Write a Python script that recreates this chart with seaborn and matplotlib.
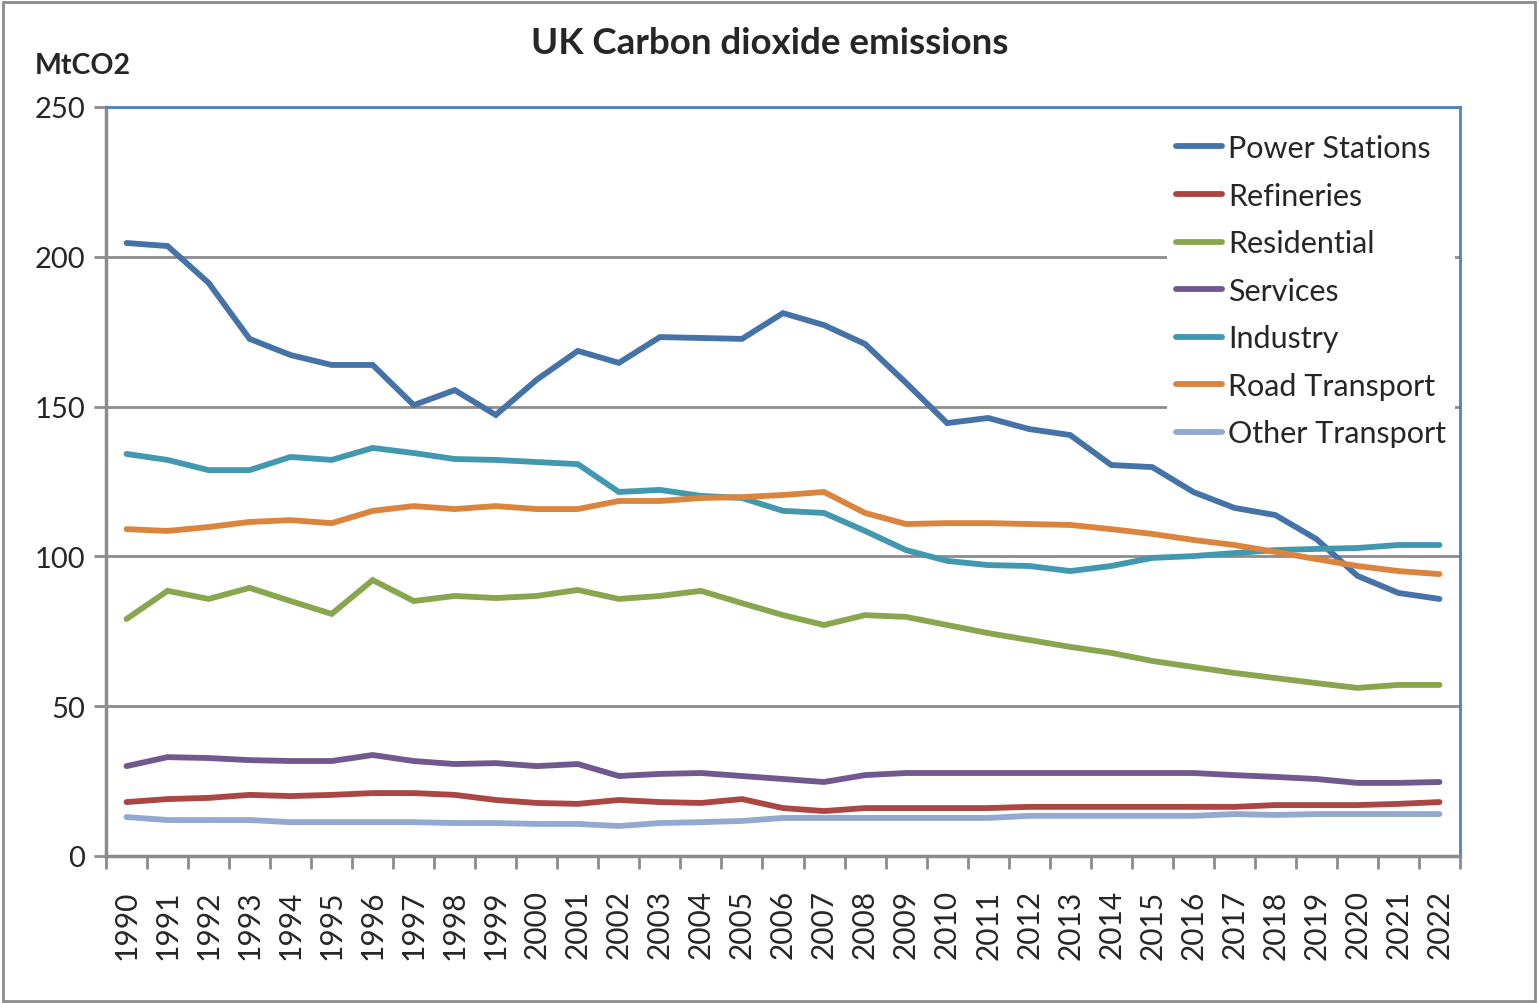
import numpy as np
import pandas as pd
import matplotlib
matplotlib.use("Agg")
import matplotlib.pyplot as plt
import seaborn as sns
from matplotlib.ticker import FixedLocator
from matplotlib.patches import Rectangle

years = list(range(1990, 2023))

power_stations = [204.6, 203.6, 191.3, 172.6, 167.2, 163.9, 163.9, 150.5, 155.5, 147.2,
                  159.0, 168.6, 164.6, 173.2, 172.9, 172.6, 181.2, 177.2, 170.9, 157.9,
                  144.5, 146.2, 142.5, 140.5, 130.5, 129.8, 121.5, 116.2, 113.8, 105.8,
                  93.5, 87.8, 85.8]
refineries = [18.0, 19.0, 19.4, 20.4, 20.0, 20.4, 21.0, 21.0, 20.4, 18.7,
              17.7, 17.4, 18.7, 18.0, 17.7, 19.0, 16.0, 15.0, 16.0, 16.0,
              16.0, 16.0, 16.4, 16.4, 16.4, 16.4, 16.4, 16.4, 17.0, 17.0,
              17.0, 17.4, 18.0]
residential = [79.1, 88.5, 85.8, 89.5, 85.1, 80.8, 92.1, 85.1, 86.8, 86.1,
               86.8, 88.8, 85.8, 86.8, 88.5, 84.4, 80.4, 77.1, 80.4, 79.8,
               77.1, 74.4, 72.1, 69.8, 67.8, 65.1, 63.1, 61.1, 59.4, 57.7,
               56.1, 57.1, 57.1]
services = [30.0, 33.0, 32.7, 32.0, 31.7, 31.7, 33.7, 31.7, 30.7, 31.0,
            30.0, 30.7, 26.7, 27.4, 27.7, 26.7, 25.7, 24.7, 27.0, 27.7,
            27.7, 27.7, 27.7, 27.7, 27.7, 27.7, 27.7, 27.0, 26.4, 25.7,
            24.4, 24.4, 24.7]
industry = [134.2, 132.2, 128.8, 128.8, 133.2, 132.2, 136.2, 134.5, 132.5, 132.2,
            131.5, 130.8, 121.5, 122.2, 120.2, 119.5, 115.2, 114.5, 108.5, 102.1,
            98.5, 97.1, 96.8, 95.1, 96.8, 99.5, 100.1, 101.1, 102.1, 102.5,
            102.8, 103.8, 103.8]
road_transport = [109.1, 108.5, 109.8, 111.5, 112.1, 111.1, 115.2, 116.8, 115.8, 116.8,
                  115.8, 115.8, 118.5, 118.5, 119.5, 119.8, 120.5, 121.5, 114.5, 110.8,
                  111.1, 111.1, 110.8, 110.5, 109.1, 107.5, 105.5, 103.8, 101.5, 99.1,
                  96.8, 95.1, 94.1]
other_transport = [13.0, 12.0, 12.0, 12.0, 11.3, 11.3, 11.3, 11.3, 11.0, 11.0,
                   10.7, 10.7, 10.0, 11.0, 11.3, 11.7, 12.7, 12.7, 12.7, 12.7,
                   12.7, 12.7, 13.4, 13.4, 13.4, 13.4, 13.4, 14.0, 13.7, 14.0,
                   14.0, 14.0, 14.0]

series_names = ["Power Stations", "Refineries", "Residential", "Services",
                "Industry", "Road Transport", "Other Transport"]
series_values = [power_stations, refineries, residential, services,
                 industry, road_transport, other_transport]
colors = ["#4572A7", "#AA4643", "#89A54E", "#71588F", "#4198AF", "#DB843D", "#93A9CF"]

title = "UK Carbon dioxide emissions"
y_unit = "MtCO2"
y_ticks = [0, 50, 100, 150, 200, 250]

df = pd.concat([pd.DataFrame({"Year": years, "Value": v, "Sector": n})
                for n, v in zip(series_names, series_values)], ignore_index=True)

sns.set_style("white")
plt.rcParams["font.family"] = ["Lato", "DejaVu Sans"]

fig = plt.figure(figsize=(15.39, 10.04), dpi=100)
ax = fig.add_axes([106 / 1539, 1 - 857 / 1004, (1460 - 106) / 1539, (857 - 108) / 1004])

sns.lineplot(data=df, x="Year", y="Value", hue="Sector", hue_order=series_names,
             palette=colors, linewidth=4.2, ax=ax, legend=True,
             solid_capstyle="round", solid_joinstyle="miter")

ax.set_xlim(years[0] - 0.5, years[-1] + 0.5)
ax.set_ylim(0, 250)
ax.set_yticks(y_ticks)
ax.set_yticklabels([str(t) for t in y_ticks], fontsize=21)
ax.set_xticks(years)
ax.set_xticklabels([str(y) for y in years], rotation=90, fontsize=21.5)
ax.xaxis.set_minor_locator(FixedLocator([y - 0.5 for y in years] + [years[-1] + 0.5]))
ax.tick_params(axis="x", which="major", length=0, pad=24)
ax.tick_params(axis="x", which="minor", length=9, width=2, color="#8C8C8C", direction="out", bottom=True)
ax.tick_params(axis="y", which="major", length=9, width=2, color="#8C8C8C", direction="out", left=True, pad=6)
ax.set_xlabel("")
ax.set_ylabel("")

ax.grid(axis="y", color="#8C8C8C", linewidth=2)
ax.grid(axis="x", visible=False)
ax.set_axisbelow(True)

for side in ["left", "bottom"]:
    ax.spines[side].set_color("#8C8C8C")
    ax.spines[side].set_linewidth(2.5)
for side in ["top", "right"]:
    ax.spines[side].set_color("#4F81BD")
    ax.spines[side].set_linewidth(2)

leg = ax.legend(loc="upper right", bbox_to_anchor=(1455 / 1539, 1 - 126 / 1004),
                bbox_transform=fig.transFigure, frameon=True, fontsize=22,
                handlelength=1.5, handletextpad=0.2, labelspacing=0.64,
                borderpad=0.3, borderaxespad=0)
leg.get_frame().set_facecolor("white")
leg.get_frame().set_edgecolor("none")
leg.get_frame().set_alpha(1)
for line in leg.get_lines():
    line.set_linewidth(4.2)
    line.set_solid_capstyle("round")

fig.text(0.5, 1 - 43 / 1004, title, ha="center", va="center",
         fontsize=26.5, fontweight="bold")
fig.text(35 / 1539, 1 - 66 / 1004, y_unit, ha="left", va="center",
         fontsize=20.5, fontweight="bold")

fig.patches.append(Rectangle((3 / 1539, 2 / 1004), 1 - 7 / 1539, 1 - 5 / 1004,
                             transform=fig.transFigure, fill=False,
                             edgecolor="#8C8C8C", linewidth=2))

fig.savefig("out.png", dpi=100)
